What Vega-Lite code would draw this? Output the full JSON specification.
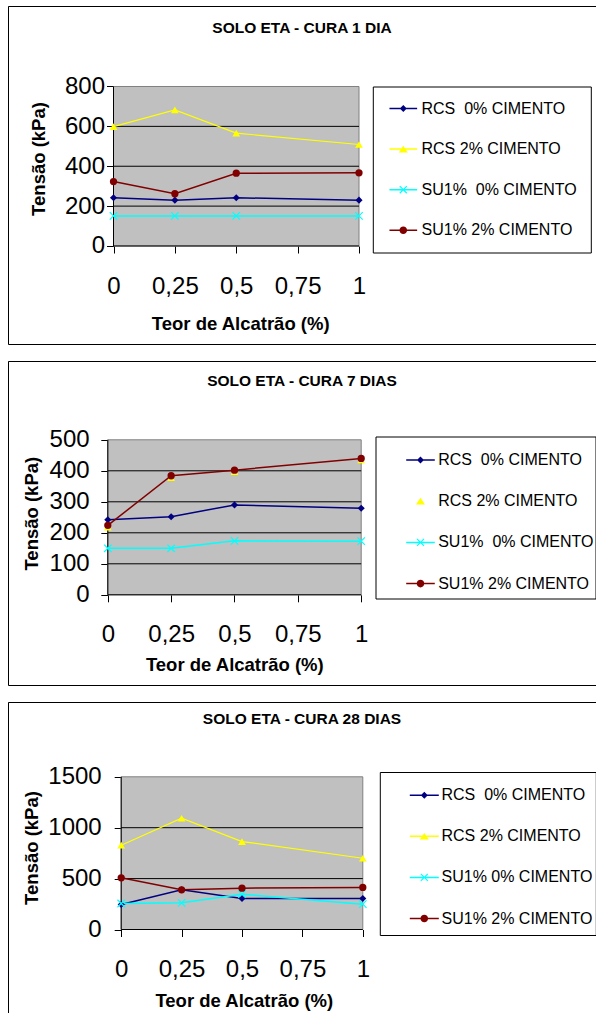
{
  "$schema": "https://vega.github.io/schema/vega-lite/v6.json",
  "background": "white",
  "padding": {"left": 7, "top": 5, "right": 0, "bottom": 0},
  "spacing": 15,
  "resolve": {"scale": {"color": "independent", "shape": "independent"}, "legend": {"color": "independent", "shape": "independent"}},
  "config": {
    "font": "Liberation Sans",
    "axis": {"labelFont": "Liberation Sans", "titleFont": "Liberation Sans", "labelFlush": false, "labelOverlap": false},
    "legend": {"labelFont": "Liberation Sans"},
    "title": {"font": "Liberation Sans"}
  },
  "datasets": {
    "p1": [
      {"serie": "RCS\u00a0 0% CIMENTO", "x": 0, "y": 242},
      {"serie": "RCS\u00a0 0% CIMENTO", "x": 0.25, "y": 230},
      {"serie": "RCS\u00a0 0% CIMENTO", "x": 0.5, "y": 242},
      {"serie": "RCS\u00a0 0% CIMENTO", "x": 1, "y": 230},
      {"serie": "RCS 2% CIMENTO", "x": 0, "y": 599},
      {"serie": "RCS 2% CIMENTO", "x": 0.25, "y": 683},
      {"serie": "RCS 2% CIMENTO", "x": 0.5, "y": 566},
      {"serie": "RCS 2% CIMENTO", "x": 1, "y": 509},
      {"serie": "SU1%\u00a0 0% CIMENTO", "x": 0, "y": 151},
      {"serie": "SU1%\u00a0 0% CIMENTO", "x": 0.25, "y": 151},
      {"serie": "SU1%\u00a0 0% CIMENTO", "x": 0.5, "y": 151},
      {"serie": "SU1%\u00a0 0% CIMENTO", "x": 1, "y": 151},
      {"serie": "SU1% 2% CIMENTO", "x": 0, "y": 323},
      {"serie": "SU1% 2% CIMENTO", "x": 0.25, "y": 262},
      {"serie": "SU1% 2% CIMENTO", "x": 0.5, "y": 365},
      {"serie": "SU1% 2% CIMENTO", "x": 1, "y": 367}
    ],
    "p2": [
      {"serie": "RCS\u00a0 0% CIMENTO", "x": 0, "y": 242},
      {"serie": "RCS\u00a0 0% CIMENTO", "x": 0.25, "y": 252},
      {"serie": "RCS\u00a0 0% CIMENTO", "x": 0.5, "y": 290},
      {"serie": "RCS\u00a0 0% CIMENTO", "x": 1, "y": 279},
      {"serie": "RCS 2% CIMENTO", "x": 0, "y": 218},
      {"serie": "RCS 2% CIMENTO", "x": 0.25, "y": 378},
      {"serie": "RCS 2% CIMENTO", "x": 0.5, "y": 397},
      {"serie": "RCS 2% CIMENTO", "x": 1, "y": 435},
      {"serie": "SU1%\u00a0 0% CIMENTO", "x": 0, "y": 150},
      {"serie": "SU1%\u00a0 0% CIMENTO", "x": 0.25, "y": 150},
      {"serie": "SU1%\u00a0 0% CIMENTO", "x": 0.5, "y": 174},
      {"serie": "SU1%\u00a0 0% CIMENTO", "x": 1, "y": 173},
      {"serie": "SU1% 2% CIMENTO", "x": 0, "y": 224},
      {"serie": "SU1% 2% CIMENTO", "x": 0.25, "y": 384},
      {"serie": "SU1% 2% CIMENTO", "x": 0.5, "y": 402},
      {"serie": "SU1% 2% CIMENTO", "x": 1, "y": 440}
    ],
    "p3": [
      {"serie": "RCS\u00a0 0% CIMENTO", "x": 0, "y": 246},
      {"serie": "RCS\u00a0 0% CIMENTO", "x": 0.25, "y": 390},
      {"serie": "RCS\u00a0 0% CIMENTO", "x": 0.5, "y": 305},
      {"serie": "RCS\u00a0 0% CIMENTO", "x": 1, "y": 305},
      {"serie": "RCS 2% CIMENTO", "x": 0, "y": 828},
      {"serie": "RCS 2% CIMENTO", "x": 0.25, "y": 1093},
      {"serie": "RCS 2% CIMENTO", "x": 0.5, "y": 864},
      {"serie": "RCS 2% CIMENTO", "x": 1, "y": 700},
      {"serie": "SU1% 0% CIMENTO", "x": 0, "y": 255},
      {"serie": "SU1% 0% CIMENTO", "x": 0.25, "y": 262},
      {"serie": "SU1% 0% CIMENTO", "x": 0.5, "y": 347},
      {"serie": "SU1% 0% CIMENTO", "x": 1, "y": 249},
      {"serie": "SU1% 2% CIMENTO", "x": 0, "y": 508},
      {"serie": "SU1% 2% CIMENTO", "x": 0.25, "y": 390},
      {"serie": "SU1% 2% CIMENTO", "x": 0.5, "y": 406},
      {"serie": "SU1% 2% CIMENTO", "x": 1, "y": 413}
    ]
  },
  "vconcat": [
    {
      "width": 588, "height": 338,
      "view": {"stroke": "black", "strokeWidth": 1, "fill": "white", "strokeDash": [588, 338, 926]},
      "title": {"text": "SOLO ETA - CURA 1 DIA", "anchor": "middle", "frame": "group", "orient": "top", "offset": -37, "baseline": "middle", "fontSize": 15.5, "fontWeight": "bold", "color": "black"},
      "data": {"name": "p1"},
      "resolve": {"axis": {"x": "independent", "y": "independent"}},
      "layer": [
        {
          "data": {"values": [{}]},
          "mark": {"type": "rect", "fill": "#C0C0C0", "stroke": "#808080", "strokeWidth": 1},
          "encoding": {
            "x": {"datum": 0, "type": "quantitative", "scale": {"domain": [-0.42974, 1.96538], "nice": false, "zero": false}, "axis": null},
            "x2": {"datum": 1},
            "y": {"datum": 0, "type": "quantitative", "scale": {"domain": [-491.54, 1203.76], "nice": false, "zero": false}, "axis": null},
            "y2": {"datum": 800}
          }
        },
        {
          "data": {"values": [{"g": 200}, {"g": 400}, {"g": 600}]},
          "mark": {"type": "rule", "color": "black", "strokeWidth": 1},
          "encoding": {
            "x": {"datum": 0, "type": "quantitative", "scale": {"domain": [-0.42974, 1.96538], "nice": false, "zero": false}, "axis": null},
            "x2": {"datum": 1},
            "y": {"field": "g", "type": "quantitative", "scale": {"domain": [-491.54, 1203.76], "nice": false, "zero": false}, "axis": null}
          }
        },
        {
          "data": {"values": [{}]},
          "mark": {"type": "rule", "color": "black", "strokeWidth": 1},
          "encoding": {
            "x": {"datum": 0, "type": "quantitative", "scale": {"domain": [-0.42974, 1.96538], "nice": false, "zero": false}, "axis": null},
            "y": {"datum": 0, "type": "quantitative", "scale": {"domain": [-491.54, 1203.76], "nice": false, "zero": false}, "axis": null},
            "y2": {"datum": 800}
          }
        },
        {
          "data": {"values": [{}]},
          "mark": {"type": "rule", "color": "black", "strokeWidth": 1},
          "encoding": {
            "x": {"datum": 0, "type": "quantitative", "scale": {"domain": [-0.42974, 1.96538], "nice": false, "zero": false}, "axis": null},
            "x2": {"datum": 1},
            "y": {"datum": 0, "type": "quantitative", "scale": {"domain": [-491.54, 1203.76], "nice": false, "zero": false}, "axis": null}
          }
        },
        {
          "encoding": {
            "x": {"field": "x", "type": "quantitative", "scale": {"domain": [-0.42974, 1.96538], "nice": false, "zero": false},
              "axis": {"title": "Teor de Alcatrão (%)", "values": [0, 0.25, 0.5, 0.75, 1], "offset": -98, "domain": false, "grid": false, "ticks": true, "tickSize": 7, "tickColor": "black", "tickWidth": 1, "labelExpr": "replace(format(datum.value, '~g'), '.', ',')", "labelFontSize": 24, "labelColor": "black", "labelPadding": 21.5, "titleFontSize": 18.5, "titleFontWeight": "bold", "titleColor": "black", "titleX": 232.2, "titleY": 77.2, "titleBaseline": "middle", "titleAlign": "center"}},
            "y": {"field": "y", "type": "quantitative", "scale": {"domain": [-491.54, 1203.76], "nice": false, "zero": false},
              "axis": {"title": "Tensão (kPa)", "values": [0, 200, 400, 600, 800], "format": "d", "offset": -105.5, "domain": false, "grid": false, "ticks": true, "tickSize": 7, "tickColor": "black", "tickWidth": 1, "labelFontSize": 24, "labelColor": "black", "labelPadding": 2, "titleFontSize": 18.5, "titleFontWeight": "bold", "titleColor": "black", "titleX": -75, "titleY": 152.5, "titleBaseline": "middle", "titleAlign": "center", "titleAngle": 270}}
          },
          "layer": [
            {"transform": [{"filter": {"field": "serie", "equal": "RCS\u00a0 0% CIMENTO"}}], "mark": {"type": "line", "color": "#000080", "strokeWidth": 1.5}},
            {"transform": [{"filter": {"field": "serie", "equal": "RCS 2% CIMENTO"}}], "mark": {"type": "line", "color": "#FFFF00", "strokeWidth": 1.2}},
            {"transform": [{"filter": {"field": "serie", "equal": "SU1%\u00a0 0% CIMENTO"}}], "mark": {"type": "line", "color": "#00FFFF", "strokeWidth": 1.5}},
            {"transform": [{"filter": {"field": "serie", "equal": "SU1% 2% CIMENTO"}}], "mark": {"type": "line", "color": "#800000", "strokeWidth": 1.5}},
            {"transform": [{"filter": {"field": "serie", "equal": "RCS\u00a0 0% CIMENTO"}}], "mark": {"type": "point", "shape": "diamond", "filled": true, "color": "#000080", "size": 50, "opacity": 1}},
            {"transform": [{"filter": {"field": "serie", "equal": "RCS 2% CIMENTO"}}], "mark": {"type": "point", "shape": "triangle-up", "filled": true, "color": "#FFFF00", "size": 60, "opacity": 1}},
            {"transform": [{"filter": {"field": "serie", "equal": "SU1%\u00a0 0% CIMENTO"}}], "mark": {"type": "point", "shape": "M-1,-1L1,1M-1,1L1,-1", "filled": false, "color": "#00FFFF", "size": 56, "strokeWidth": 1.2, "opacity": 1}},
            {"transform": [{"filter": {"field": "serie", "equal": "SU1% 2% CIMENTO"}}], "mark": {"type": "point", "shape": "circle", "filled": true, "color": "#800000", "size": 53, "opacity": 1}},
            {
              "transform": [{"filter": "false"}],
              "mark": {"type": "point", "filled": true, "opacity": 1},
              "encoding": {
                "color": {"field": "serie", "type": "nominal",
                  "scale": {"domain": ["RCS\u00a0 0% CIMENTO", "RCS 2% CIMENTO", "SU1%\u00a0 0% CIMENTO", "SU1% 2% CIMENTO"], "range": ["#000080", "#FFFF00", "#00FFFF", "#800000"]},
                  "legend": {"title": null, "orient": "none", "legendX": 364.8, "legendY": 80.5, "padding": 14, "strokeColor": "black", "fillColor": "white", "symbolSize": 256, "symbolStrokeWidth": 0, "symbolOffset": 8.5, "labelOffset": 10.2, "rowPadding": 24.6, "labelFontSize": 16, "labelColor": "black", "labelLimit": 400, "symbolOpacity": 1}},
                "shape": {"field": "serie", "type": "nominal",
                  "scale": {"domain": ["RCS\u00a0 0% CIMENTO", "RCS 2% CIMENTO", "SU1%\u00a0 0% CIMENTO", "SU1% 2% CIMENTO"],
                    "range": [
                      "M-1.73,-0.094H1.73V0.094H-1.73ZM0,-0.44L0.44,0L0,0.44L-0.44,0Z",
                      "M-1.73,-0.094H1.73V0.094H-1.73ZM0,-0.42L0.56,0.41L-0.56,0.41Z",
                      "M-1.73,-0.094H1.73V0.094H-1.73ZM-0.387,-0.493L0.493,0.387L0.387,0.493L-0.493,-0.387ZM-0.387,0.493L-0.493,0.387L0.387,-0.493L0.493,-0.387Z",
                      "M-1.73,-0.094H1.73V0.094H-1.73ZM-0.475,0A0.475,0.475 0 1,1 0.475,0A0.475,0.475 0 1,1 -0.475,0Z"
                    ]},
                  "legend": {"title": null, "orient": "none", "legendX": 364.8, "legendY": 80.5, "padding": 14, "strokeColor": "black", "fillColor": "white", "symbolSize": 256, "symbolStrokeWidth": 0, "symbolOffset": 8.5, "labelOffset": 10.2, "rowPadding": 24.6, "labelFontSize": 16, "labelColor": "black", "labelLimit": 400, "symbolOpacity": 1}}
              }
            }
          ]
        }
      ]
    },
    {
      "width": 588, "height": 324,
      "view": {"stroke": "black", "strokeWidth": 1, "fill": "white", "strokeDash": [588, 324, 912]},
      "title": {"text": "SOLO ETA - CURA 7 DIAS", "anchor": "middle", "frame": "group", "orient": "top", "offset": -35.3, "baseline": "middle", "fontSize": 15.5, "fontWeight": "bold", "color": "black"},
      "data": {"name": "p2"},
      "resolve": {"axis": {"x": "independent", "y": "independent"}},
      "layer": [
        {
          "data": {"values": [{}]},
          "mark": {"type": "rect", "fill": "#C0C0C0", "stroke": "#808080", "strokeWidth": 1},
          "encoding": {
            "x": {"datum": 0, "type": "quantitative", "scale": {"domain": [-0.39384, 1.9266], "nice": false, "zero": false}, "axis": null},
            "x2": {"datum": 1},
            "y": {"datum": 0, "type": "quantitative", "scale": {"domain": [-290.97, 754.19], "nice": false, "zero": false}, "axis": null},
            "y2": {"datum": 500}
          }
        },
        {
          "data": {"values": [{"g": 100}, {"g": 200}, {"g": 300}, {"g": 400}]},
          "mark": {"type": "rule", "color": "black", "strokeWidth": 1},
          "encoding": {
            "x": {"datum": 0, "type": "quantitative", "scale": {"domain": [-0.39384, 1.9266], "nice": false, "zero": false}, "axis": null},
            "x2": {"datum": 1},
            "y": {"field": "g", "type": "quantitative", "scale": {"domain": [-290.97, 754.19], "nice": false, "zero": false}, "axis": null}
          }
        },
        {
          "data": {"values": [{}]},
          "mark": {"type": "rule", "color": "black", "strokeWidth": 1},
          "encoding": {
            "x": {"datum": 0, "type": "quantitative", "scale": {"domain": [-0.39384, 1.9266], "nice": false, "zero": false}, "axis": null},
            "y": {"datum": 0, "type": "quantitative", "scale": {"domain": [-290.97, 754.19], "nice": false, "zero": false}, "axis": null},
            "y2": {"datum": 500}
          }
        },
        {
          "data": {"values": [{}]},
          "mark": {"type": "rule", "color": "black", "strokeWidth": 1},
          "encoding": {
            "x": {"datum": 0, "type": "quantitative", "scale": {"domain": [-0.39384, 1.9266], "nice": false, "zero": false}, "axis": null},
            "x2": {"datum": 1},
            "y": {"datum": 0, "type": "quantitative", "scale": {"domain": [-290.97, 754.19], "nice": false, "zero": false}, "axis": null}
          }
        },
        {
          "encoding": {
            "x": {"field": "x", "type": "quantitative", "scale": {"domain": [-0.39384, 1.9266], "nice": false, "zero": false},
              "axis": {"title": "Teor de Alcatrão (%)", "values": [0, 0.25, 0.5, 0.75, 1], "offset": -90.2, "domain": false, "grid": false, "ticks": true, "tickSize": 7, "tickColor": "black", "tickWidth": 1, "labelExpr": "replace(format(datum.value, '~g'), '.', ',')", "labelFontSize": 24, "labelColor": "black", "labelPadding": 21, "titleFontSize": 18.5, "titleFontWeight": "bold", "titleColor": "black", "titleX": 226.3, "titleY": 69.7, "titleBaseline": "middle", "titleAlign": "center"}},
            "y": {"field": "y", "type": "quantitative", "scale": {"domain": [-290.97, 754.19], "nice": false, "zero": false},
              "axis": {"title": "Tensão (kPa)", "values": [0, 100, 200, 300, 400, 500], "format": "d", "offset": -99.8, "domain": false, "grid": false, "ticks": true, "tickSize": 7, "tickColor": "black", "tickWidth": 1, "labelFontSize": 24, "labelColor": "black", "labelPadding": 11.7, "titleFontSize": 18.5, "titleFontWeight": "bold", "titleColor": "black", "titleX": -76.8, "titleY": 152.2, "titleBaseline": "middle", "titleAlign": "center", "titleAngle": 270}}
          },
          "layer": [
            {"transform": [{"filter": {"field": "serie", "equal": "RCS\u00a0 0% CIMENTO"}}], "mark": {"type": "line", "color": "#000080", "strokeWidth": 1.5}},
            {"transform": [{"filter": {"field": "serie", "equal": "SU1%\u00a0 0% CIMENTO"}}], "mark": {"type": "line", "color": "#00FFFF", "strokeWidth": 1.5}},
            {"transform": [{"filter": {"field": "serie", "equal": "SU1% 2% CIMENTO"}}], "mark": {"type": "line", "color": "#800000", "strokeWidth": 1.5}},
            {"transform": [{"filter": {"field": "serie", "equal": "RCS\u00a0 0% CIMENTO"}}], "mark": {"type": "point", "shape": "diamond", "filled": true, "color": "#000080", "size": 50, "opacity": 1}},
            {"transform": [{"filter": {"field": "serie", "equal": "RCS 2% CIMENTO"}}], "mark": {"type": "point", "shape": "triangle-up", "filled": true, "color": "#FFFF00", "size": 60, "opacity": 1}},
            {"transform": [{"filter": {"field": "serie", "equal": "SU1%\u00a0 0% CIMENTO"}}], "mark": {"type": "point", "shape": "M-1,-1L1,1M-1,1L1,-1", "filled": false, "color": "#00FFFF", "size": 56, "strokeWidth": 1.2, "opacity": 1}},
            {"transform": [{"filter": {"field": "serie", "equal": "SU1% 2% CIMENTO"}}], "mark": {"type": "point", "shape": "circle", "filled": true, "color": "#800000", "size": 53, "opacity": 1}},
            {
              "transform": [{"filter": "false"}],
              "mark": {"type": "point", "filled": true, "opacity": 1},
              "encoding": {
                "color": {"field": "serie", "type": "nominal",
                  "scale": {"domain": ["RCS\u00a0 0% CIMENTO", "RCS 2% CIMENTO", "SU1%\u00a0 0% CIMENTO", "SU1% 2% CIMENTO"], "range": ["#000080", "#FFFF00", "#00FFFF", "#800000"]},
                  "legend": {"title": null, "orient": "none", "legendX": 367.5, "legendY": 75.5, "padding": 2, "strokeColor": "black", "fillColor": "white", "symbolSize": 1849, "symbolStrokeWidth": 0, "symbolOffset": 21.5, "labelOffset": -3.8, "rowPadding": 6.2, "labelFontSize": 16, "labelColor": "black", "labelLimit": 400, "symbolOpacity": 1}},
                "shape": {"field": "serie", "type": "nominal",
                  "scale": {"domain": ["RCS\u00a0 0% CIMENTO", "RCS 2% CIMENTO", "SU1%\u00a0 0% CIMENTO", "SU1% 2% CIMENTO"],
                    "range": [
                      "M0,-0.59L0,-0.59M0,0.59L0,0.59M-0.665,-0.035H0.665V0.035H-0.665ZM0,-0.163L0.163,0L0,0.163L-0.163,0Z",
                      "M0,-0.59L0,-0.59M0,0.59L0,0.59M0,-0.158L0.209,0.153L-0.209,0.153Z",
                      "M0,-0.59L0,-0.59M0,0.59L0,0.59M-0.665,-0.035H0.665V0.035H-0.665ZM-0.143,-0.183L0.183,0.143L0.143,0.183L-0.183,-0.143ZM-0.143,0.183L-0.183,0.143L0.143,-0.183L0.183,-0.143Z",
                      "M0,-0.59L0,-0.59M0,0.59L0,0.59M-0.665,-0.035H0.665V0.035H-0.665ZM-0.177,0A0.177,0.177 0 1,1 0.177,0A0.177,0.177 0 1,1 -0.177,0Z"
                    ]},
                  "legend": {"title": null, "orient": "none", "legendX": 367.5, "legendY": 75.5, "padding": 2, "strokeColor": "black", "fillColor": "white", "symbolSize": 1849, "symbolStrokeWidth": 0, "symbolOffset": 21.5, "labelOffset": -3.8, "rowPadding": 6.2, "labelFontSize": 16, "labelColor": "black", "labelLimit": 400, "symbolOpacity": 1}}
              }
            }
          ]
        }
      ]
    },
    {
      "width": 588, "height": 313,
      "view": {"stroke": "black", "strokeWidth": 1, "fill": "white", "strokeDash": [588, 901, 313]},
      "title": {"text": "SOLO ETA - CURA 28 DIAS", "anchor": "middle", "frame": "group", "orient": "top", "offset": -32.8, "baseline": "middle", "fontSize": 15.5, "fontWeight": "bold", "color": "black"},
      "data": {"name": "p3"},
      "resolve": {"axis": {"x": "independent", "y": "independent"}},
      "layer": [
        {
          "data": {"values": [{}]},
          "mark": {"type": "rect", "fill": "#C0C0C0", "stroke": "#808080", "strokeWidth": 1},
          "encoding": {
            "x": {"datum": 0, "type": "quantitative", "scale": {"domain": [-0.46854, 1.96523], "nice": false, "zero": false}, "axis": null},
            "x2": {"datum": 1},
            "y": {"datum": 0, "type": "quantitative", "scale": {"domain": [-839.88, 2234.77], "nice": false, "zero": false}, "axis": null},
            "y2": {"datum": 1500}
          }
        },
        {
          "data": {"values": [{"g": 500}, {"g": 1000}]},
          "mark": {"type": "rule", "color": "black", "strokeWidth": 1},
          "encoding": {
            "x": {"datum": 0, "type": "quantitative", "scale": {"domain": [-0.46854, 1.96523], "nice": false, "zero": false}, "axis": null},
            "x2": {"datum": 1},
            "y": {"field": "g", "type": "quantitative", "scale": {"domain": [-839.88, 2234.77], "nice": false, "zero": false}, "axis": null}
          }
        },
        {
          "data": {"values": [{}]},
          "mark": {"type": "rule", "color": "black", "strokeWidth": 1},
          "encoding": {
            "x": {"datum": 0, "type": "quantitative", "scale": {"domain": [-0.46854, 1.96523], "nice": false, "zero": false}, "axis": null},
            "y": {"datum": 0, "type": "quantitative", "scale": {"domain": [-839.88, 2234.77], "nice": false, "zero": false}, "axis": null},
            "y2": {"datum": 1500}
          }
        },
        {
          "data": {"values": [{}]},
          "mark": {"type": "rule", "color": "black", "strokeWidth": 1},
          "encoding": {
            "x": {"datum": 0, "type": "quantitative", "scale": {"domain": [-0.46854, 1.96523], "nice": false, "zero": false}, "axis": null},
            "x2": {"datum": 1},
            "y": {"datum": 0, "type": "quantitative", "scale": {"domain": [-839.88, 2234.77], "nice": false, "zero": false}, "axis": null}
          }
        },
        {
          "encoding": {
            "x": {"field": "x", "type": "quantitative", "scale": {"domain": [-0.46854, 1.96523], "nice": false, "zero": false},
              "axis": {"title": "Teor de Alcatrão (%)", "values": [0, 0.25, 0.5, 0.75, 1], "offset": -85.5, "domain": false, "grid": false, "ticks": true, "tickSize": 7, "tickColor": "black", "tickWidth": 1, "labelExpr": "replace(format(datum.value, '~g'), '.', ',')", "labelFontSize": 24, "labelColor": "black", "labelPadding": 21.2, "titleFontSize": 18.5, "titleFontWeight": "bold", "titleColor": "black", "titleX": 235.8, "titleY": 70.7, "titleBaseline": "middle", "titleAlign": "center"}},
            "y": {"field": "y", "type": "quantitative", "scale": {"domain": [-839.88, 2234.77], "nice": false, "zero": false},
              "axis": {"title": "Tensão (kPa)", "values": [0, 500, 1000, 1500], "format": "d", "offset": -113.2, "domain": false, "grid": false, "ticks": true, "tickSize": 7, "tickColor": "black", "tickWidth": 1, "labelFontSize": 24, "labelColor": "black", "labelPadding": 13, "titleFontSize": 18.5, "titleFontWeight": "bold", "titleColor": "black", "titleX": -90.2, "titleY": 145.5, "titleBaseline": "middle", "titleAlign": "center", "titleAngle": 270}}
          },
          "layer": [
            {"transform": [{"filter": {"field": "serie", "equal": "RCS\u00a0 0% CIMENTO"}}], "mark": {"type": "line", "color": "#000080", "strokeWidth": 1.5}},
            {"transform": [{"filter": {"field": "serie", "equal": "RCS 2% CIMENTO"}}], "mark": {"type": "line", "color": "#FFFF00", "strokeWidth": 1.2}},
            {"transform": [{"filter": {"field": "serie", "equal": "SU1% 0% CIMENTO"}}], "mark": {"type": "line", "color": "#00FFFF", "strokeWidth": 1.5}},
            {"transform": [{"filter": {"field": "serie", "equal": "SU1% 2% CIMENTO"}}], "mark": {"type": "line", "color": "#800000", "strokeWidth": 1.5}},
            {"transform": [{"filter": {"field": "serie", "equal": "RCS\u00a0 0% CIMENTO"}}], "mark": {"type": "point", "shape": "diamond", "filled": true, "color": "#000080", "size": 50, "opacity": 1}},
            {"transform": [{"filter": {"field": "serie", "equal": "RCS 2% CIMENTO"}}], "mark": {"type": "point", "shape": "triangle-up", "filled": true, "color": "#FFFF00", "size": 60, "opacity": 1}},
            {"transform": [{"filter": {"field": "serie", "equal": "SU1% 0% CIMENTO"}}], "mark": {"type": "point", "shape": "M-1,-1L1,1M-1,1L1,-1", "filled": false, "color": "#00FFFF", "size": 56, "strokeWidth": 1.2, "opacity": 1}},
            {"transform": [{"filter": {"field": "serie", "equal": "SU1% 2% CIMENTO"}}], "mark": {"type": "point", "shape": "circle", "filled": true, "color": "#800000", "size": 53, "opacity": 1}},
            {
              "transform": [{"filter": "false"}],
              "mark": {"type": "point", "filled": true, "opacity": 1},
              "encoding": {
                "color": {"field": "serie", "type": "nominal",
                  "scale": {"domain": ["RCS\u00a0 0% CIMENTO", "RCS 2% CIMENTO", "SU1% 0% CIMENTO", "SU1% 2% CIMENTO"], "range": ["#000080", "#FFFF00", "#00FFFF", "#800000"]},
                  "legend": {"title": null, "orient": "none", "legendX": 371.8, "legendY": 70, "padding": 3.2, "strokeColor": "black", "fillColor": "white", "symbolSize": 1600, "symbolStrokeWidth": 0, "symbolOffset": 21.3, "labelOffset": -2.8, "rowPadding": 8.1, "labelFontSize": 16, "labelColor": "black", "labelLimit": 400, "symbolOpacity": 1}},
                "shape": {"field": "serie", "type": "nominal",
                  "scale": {"domain": ["RCS\u00a0 0% CIMENTO", "RCS 2% CIMENTO", "SU1% 0% CIMENTO", "SU1% 2% CIMENTO"],
                    "range": [
                      "M0,-0.625L0,-0.625M0,0.625L0,0.625M-0.725,-0.0375H0.725V0.0375H-0.725ZM0,-0.175L0.175,0L0,0.175L-0.175,0Z",
                      "M0,-0.625L0,-0.625M0,0.625L0,0.625M-0.725,-0.0375H0.725V0.0375H-0.725ZM0,-0.17L0.225,0.165L-0.225,0.165Z",
                      "M0,-0.625L0,-0.625M0,0.625L0,0.625M-0.725,-0.0375H0.725V0.0375H-0.725ZM-0.154,-0.196L0.196,0.154L0.154,0.196L-0.196,-0.154ZM-0.154,0.196L-0.196,0.154L0.154,-0.196L0.196,-0.154Z",
                      "M0,-0.625L0,-0.625M0,0.625L0,0.625M-0.725,-0.0375H0.725V0.0375H-0.725ZM-0.19,0A0.19,0.19 0 1,1 0.19,0A0.19,0.19 0 1,1 -0.19,0Z"
                    ]},
                  "legend": {"title": null, "orient": "none", "legendX": 371.8, "legendY": 70, "padding": 3.2, "strokeColor": "black", "fillColor": "white", "symbolSize": 1600, "symbolStrokeWidth": 0, "symbolOffset": 21.3, "labelOffset": -2.8, "rowPadding": 8.1, "labelFontSize": 16, "labelColor": "black", "labelLimit": 400, "symbolOpacity": 1}}
              }
            }
          ]
        }
      ]
    }
  ]
}
